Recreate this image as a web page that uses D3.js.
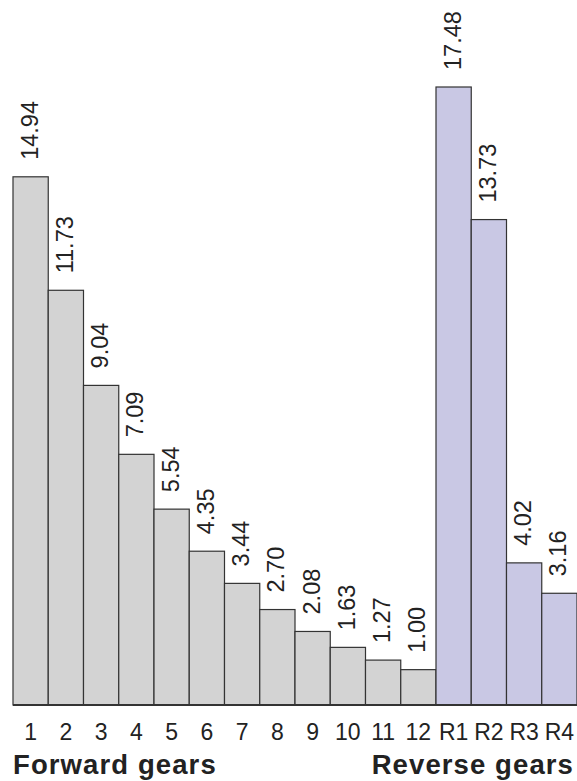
<!DOCTYPE html>
<html>
<head>
<meta charset="utf-8">
<script src="https://cdn.jsdelivr.net/npm/d3@7"></script>
<style>
  body { margin: 0; background: #fff; }
  text { font-family: "Liberation Sans", Arial, sans-serif; fill: #222; }
</style>
</head>
<body>
<div id="graph"></div>
<script>
// gear names and ratios
var gears = ['1','2','3','4','5','6','7','8','9','10','11','12','R1','R2','R3','R4'];
var ratios = [14.94, 11.73, 9.04, 7.09, 5.54, 4.35, 3.44, 2.70, 2.08, 1.63, 1.27, 1.00, 17.48, 13.73, 4.02, 3.16];
var groupTitles = ['Forward gears', 'Reverse gears'];

var width = 577, height = 781;
var left = 13, right = 577, base = 705;

var svg = d3.select('#graph')
            .append('svg')
            .attr('width', width)
            .attr('height', height);

var x = d3.scaleBand()
          .domain(gears)
          .range([left, right])
          .padding(0);

var y = d3.scaleLinear()
          .domain([0, 17.48])
          .range([base, 87]);

var data = gears.map(function(g, i) { return {gear: g, value: ratios[i]}; });

svg.selectAll('rect.bar')
   .data(data)
   .enter()
   .append('rect')
   .attr('class', 'bar')
   .attr('x', d => x(d.gear))
   .attr('y', d => y(d.value))
   .attr('width', x.bandwidth())
   .attr('height', d => base - y(d.value))
   .attr('fill', d => d.gear[0] == 'R' ? '#c9c8e4' : '#d3d3d3')
   .attr('stroke', '#333')
   .attr('stroke-width', 1.2);

// value labels, rotated
svg.selectAll('text.val')
   .data(data)
   .enter()
   .append('text')
   .attr('class', 'val')
   .attr('transform', d => 'translate(' + (x(d.gear) + x.bandwidth()/2 - 1) + ',' + (y(d.value) - 17) + ') rotate(-90)')
   .attr('dominant-baseline', 'central')
   .style('font-size', '23.5px')
   .text(d => d.value.toFixed(2));

// baseline
svg.append('line')
   .attr('x1', left).attr('x2', right)
   .attr('y1', base).attr('y2', base)
   .attr('stroke', '#333')
   .attr('stroke-width', 2);

// tick labels
var xAxis = svg.append('g')
   .attr('transform', 'translate(0,' + base + ')')
   .call(d3.axisBottom(x).tickSize(0).tickPadding(0));
xAxis.select('.domain').remove();
xAxis.selectAll('text')
     .attr('y', 35)
     .attr('dy', null)
     .style('font-size', '23px')
     .style('font-family', '"Liberation Sans", Arial, sans-serif')
     .attr('fill', '#222');

svg.append('text')
   .attr('x', left)
   .attr('y', 774)
   .style('font-size', '27.5px')
   .style('font-weight', 'bold')
   .style('letter-spacing', '1.1px')
   .text(groupTitles[0]);

svg.append('text')
   .attr('x', 574)
   .attr('y', 774)
   .attr('text-anchor', 'end')
   .style('font-size', '27.5px')
   .style('font-weight', 'bold')
   .style('letter-spacing', '1.1px')
   .text(groupTitles[1]);
</script>
</body>
</html>
